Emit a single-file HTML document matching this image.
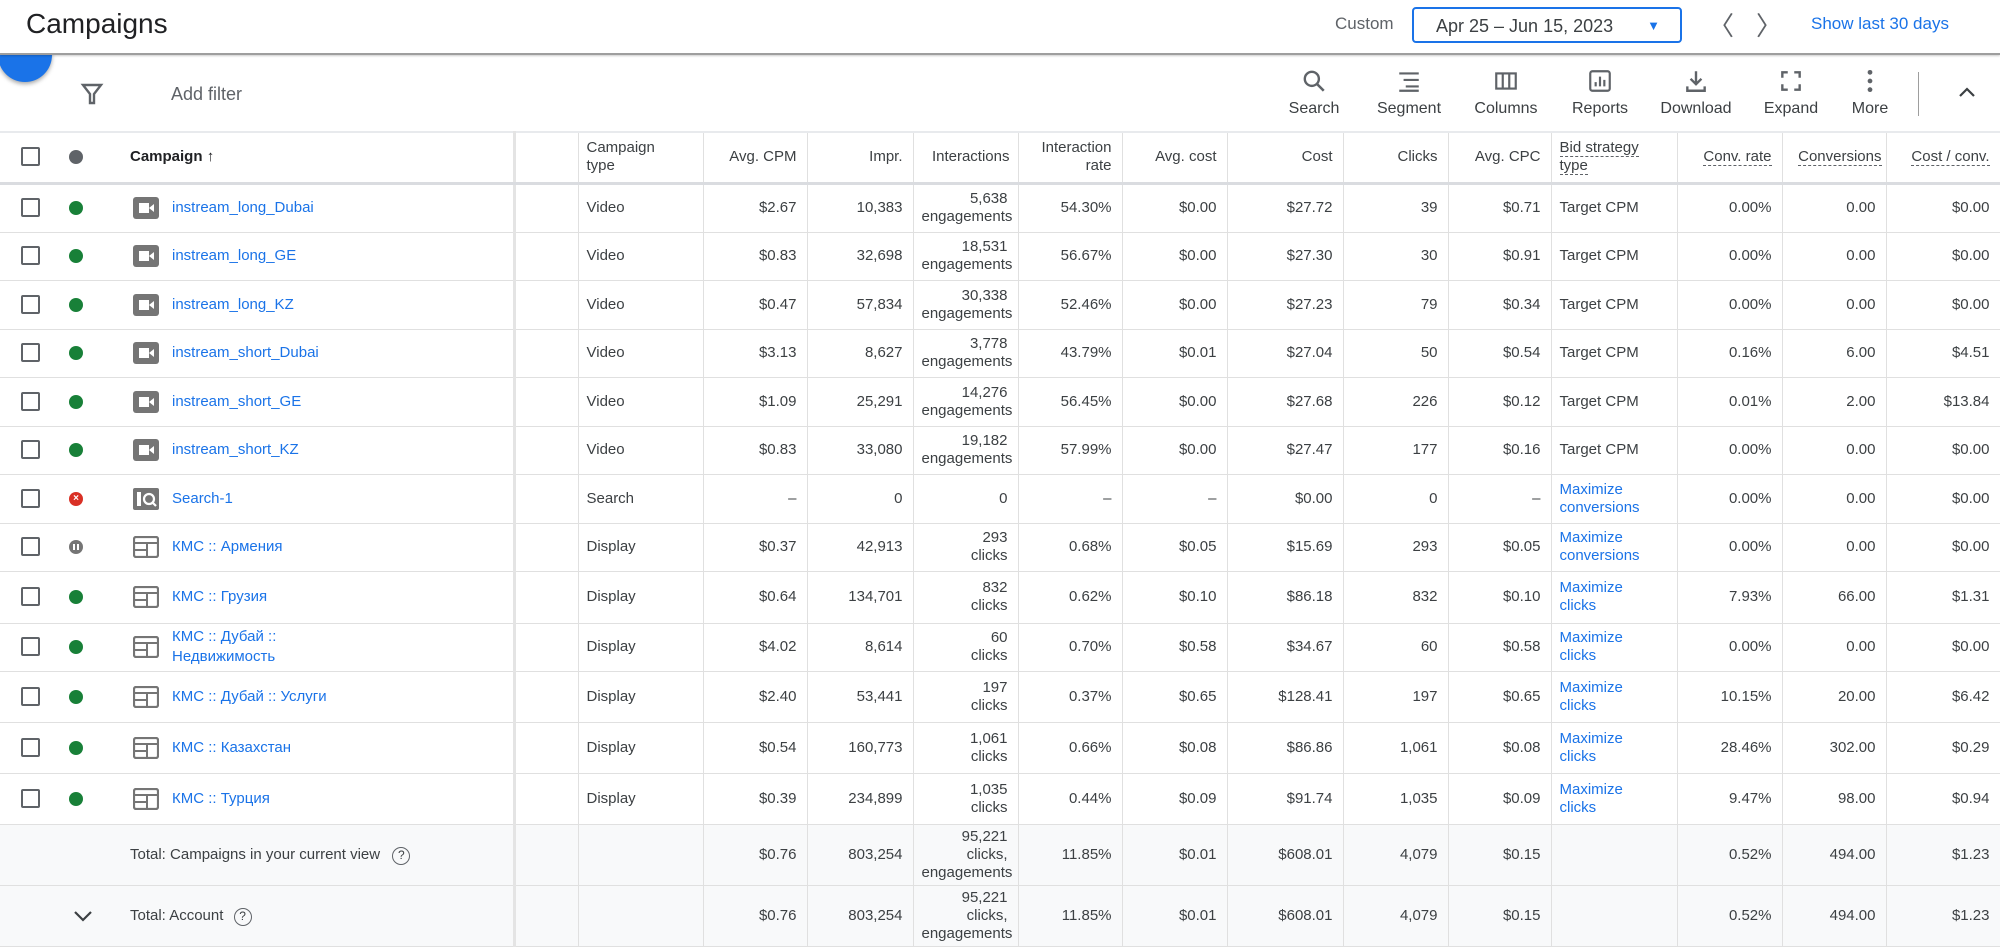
<!DOCTYPE html>
<html><head><meta charset="utf-8"><style>
*{box-sizing:border-box;margin:0;padding:0}
body{width:2000px;height:948px;overflow:hidden;background:#fff;font-family:"Liberation Sans","Noto Sans CJK SC",sans-serif;color:#3c4043;position:relative}
.top{position:absolute;left:0;top:0;width:2000px;height:55px;background:#fff;border-bottom:2px solid #9e9e9e;z-index:3;box-shadow:0 1px 2px rgba(0,0,0,.2)}
.title{position:absolute;left:26px;top:8px;font-size:28px;color:#202124}
.custom{position:absolute;left:1335px;top:14px;font-size:17px;color:#5f6368}
.date{position:absolute;left:1412px;top:7px;width:270px;height:36px;border:2px solid #1a73e8;border-radius:4px;font-size:18px;color:#3c4043;padding:7px 0 0 22px}
.date .ar{position:absolute;right:20px;top:9px;font-size:13px;color:#1a73e8}
.nav{position:absolute;top:6px;font-size:26px;color:#5f6368}
.show{position:absolute;left:1811px;top:14px;font-size:17px;color:#1a73e8}
.fab{position:absolute;left:-2px;top:28px;width:54px;height:54px;border-radius:50%;background:#1a73e8;box-shadow:0 2px 4px rgba(0,0,0,.35);z-index:2}
.tool{position:absolute;top:68px;width:90px;text-align:center;font-size:16px;color:#3c4043}
.tool svg{display:block;margin:0 auto 6px}
table{position:absolute;left:0;top:131px;border-collapse:collapse;table-layout:fixed;width:2000px;font-size:15px}
td{border-bottom:1px solid #e0e0e0;border-right:1px solid #e0e0e0;text-align:right;padding:0 10px 0 8px;vertical-align:middle;white-space:nowrap;overflow:hidden;line-height:18px}
tr.h td{font-size:15px;color:#3c4043;border-bottom:3px solid #dadce0;border-top:2px solid #e8eaed}
td.l{text-align:left}
td.c0{position:relative;padding:0;border-right:3px solid #e4e4e4}
.cb{position:absolute;left:21px;top:50%;margin-top:-10px;width:19px;height:19px;border:2px solid #5f6368;border-radius:2px}
.dot{position:absolute;left:69px;top:50%;margin-top:-7px;width:14px;height:14px;border-radius:50%;background:#188038}
.ic{position:absolute;left:133px;top:50%;margin-top:-11px}
.nm{position:absolute;left:172px;top:50%;transform:translateY(-50%);color:#1a73e8;text-align:left;white-space:normal;line-height:20px}
.lk{color:#1a73e8}
tr.t td{background:#f8f9fa}
.du{border-bottom:1px dashed #5f6368}
</style></head><body>
<div class="top">
<div class="title">Campaigns</div>
<div class="custom">Custom</div>
<div class="date">Apr 25 – Jun 15, 2023<span class="ar">▼</span></div>
<div class="nav" style="left:1708px">〈</div>
<div class="nav" style="left:1756px">〉</div>
<div class="show">Show last 30 days</div>
</div>
<div class="fab"></div>
<svg style="position:absolute;left:80px;top:82px" width="24" height="24" viewBox="0 0 24 24"><path d="M3 3h18l-7 9v9h-4v-9z" fill="none" stroke="#5f6368" stroke-width="2.4"/></svg>
<div style="position:absolute;left:171px;top:84px;font-size:18px;color:#5f6368">Add filter</div>
<div class="tool" style="left:1269px"><svg width="26" height="26" viewBox="0 0 24 24"><circle cx="10" cy="10" r="6.5" fill="none" stroke="#5f6368" stroke-width="2.2"/><path d="M15 15l6 6" stroke="#5f6368" stroke-width="2.4"/></svg>Search</div>
<div class="tool" style="left:1364px"><svg width="26" height="26" viewBox="0 0 24 24"><path d="M3 5h18M7 11h14M9 17h12M3 21h18" stroke="#5f6368" stroke-width="2"/></svg>Segment</div>
<div class="tool" style="left:1461px"><svg width="26" height="26" viewBox="0 0 24 24"><rect x="3" y="5" width="18" height="14" fill="none" stroke="#5f6368" stroke-width="2"/><path d="M9 5v14M15 5v14" stroke="#5f6368" stroke-width="2"/></svg>Columns</div>
<div class="tool" style="left:1555px"><svg width="26" height="26" viewBox="0 0 24 24"><rect x="3" y="3" width="18" height="18" rx="2" fill="none" stroke="#5f6368" stroke-width="2"/><path d="M8 17v-4M12 17V8M16 17v-6" stroke="#5f6368" stroke-width="2"/></svg>Reports</div>
<div class="tool" style="left:1651px"><svg width="26" height="26" viewBox="0 0 24 24"><path d="M12 3v11M7 10l5 5 5-5M4 17v4h16v-4" fill="none" stroke="#5f6368" stroke-width="2.2"/></svg>Download</div>
<div class="tool" style="left:1746px"><svg width="26" height="26" viewBox="0 0 24 24"><path d="M4 9V4h5M15 4h5v5M20 15v5h-5M9 20H4v-5" fill="none" stroke="#5f6368" stroke-width="2.2"/></svg>Expand</div>
<div class="tool" style="left:1825px"><svg width="26" height="26" viewBox="0 0 24 24"><circle cx="12" cy="4" r="2.2" fill="#5f6368"/><circle cx="12" cy="12" r="2.2" fill="#5f6368"/><circle cx="12" cy="20" r="2.2" fill="#5f6368"/></svg>More</div>
<div style="position:absolute;left:1918px;top:72px;width:1px;height:44px;background:#9e9e9e"></div>
<svg style="position:absolute;left:1956px;top:84px" width="22" height="16" viewBox="0 0 22 16"><path d="M4 12l7-7 7 7" fill="none" stroke="#3c4043" stroke-width="2.2"/></svg>

<table>
<colgroup><col style="width:514px"><col style="width:64px"><col style="width:125px"><col style="width:104px"><col style="width:106px"><col style="width:105px"><col style="width:104px"><col style="width:105px"><col style="width:116px"><col style="width:105px"><col style="width:103px"><col style="width:126px"><col style="width:105px"><col style="width:104px"><col style="width:114px"></colgroup>
<tr class="h" style="height:51px"><td class="c0"><div class="cb"></div><div class="dot" style="background:#5f6368"></div><div class="nm" style="left:130px;color:#202124;font-weight:bold;font-size:15px">Campaign <span style="font-weight:normal">↑</span></div></td><td></td><td class="l">Campaign<br>type</td><td>Avg. CPM</td><td>Impr.</td><td style="padding-right:8px">Interactions</td><td>Interaction<br>rate</td><td>Avg. cost</td><td>Cost</td><td>Clicks</td><td>Avg. CPC</td><td class="l"><span class="du">Bid strategy</span><br><span class="du">type</span></td><td><span class="du">Conv. rate</span></td><td style="padding-right:4px"><span class="du">Conversions</span></td><td><span class="du">Cost / conv.</span></td></tr>

<tr style="height:49px"><td class="c0"><div class="cb"></div><div class="dot"></div><svg class="ic" width="26" height="22"><rect width="26" height="22" rx="3" fill="#757575"/><rect x="6" y="6" width="10" height="10" fill="#fff"/><path d="M16 11l5-4v8z" fill="#fff"/></svg><div class="nm">instream_long_Dubai</div></td><td></td><td class="l">Video</td><td>$2.67</td><td>10,383</td><td>5,638<br>engagements</td><td>54.30%</td><td>$0.00</td><td>$27.72</td><td>39</td><td>$0.71</td><td class="l">Target CPM</td><td>0.00%</td><td>0.00</td><td>$0.00</td></tr>
<tr style="height:48px"><td class="c0"><div class="cb"></div><div class="dot"></div><svg class="ic" width="26" height="22"><rect width="26" height="22" rx="3" fill="#757575"/><rect x="6" y="6" width="10" height="10" fill="#fff"/><path d="M16 11l5-4v8z" fill="#fff"/></svg><div class="nm">instream_long_GE</div></td><td></td><td class="l">Video</td><td>$0.83</td><td>32,698</td><td>18,531<br>engagements</td><td>56.67%</td><td>$0.00</td><td>$27.30</td><td>30</td><td>$0.91</td><td class="l">Target CPM</td><td>0.00%</td><td>0.00</td><td>$0.00</td></tr>
<tr style="height:49px"><td class="c0"><div class="cb"></div><div class="dot"></div><svg class="ic" width="26" height="22"><rect width="26" height="22" rx="3" fill="#757575"/><rect x="6" y="6" width="10" height="10" fill="#fff"/><path d="M16 11l5-4v8z" fill="#fff"/></svg><div class="nm">instream_long_KZ</div></td><td></td><td class="l">Video</td><td>$0.47</td><td>57,834</td><td>30,338<br>engagements</td><td>52.46%</td><td>$0.00</td><td>$27.23</td><td>79</td><td>$0.34</td><td class="l">Target CPM</td><td>0.00%</td><td>0.00</td><td>$0.00</td></tr>
<tr style="height:48px"><td class="c0"><div class="cb"></div><div class="dot"></div><svg class="ic" width="26" height="22"><rect width="26" height="22" rx="3" fill="#757575"/><rect x="6" y="6" width="10" height="10" fill="#fff"/><path d="M16 11l5-4v8z" fill="#fff"/></svg><div class="nm">instream_short_Dubai</div></td><td></td><td class="l">Video</td><td>$3.13</td><td>8,627</td><td>3,778<br>engagements</td><td>43.79%</td><td>$0.01</td><td>$27.04</td><td>50</td><td>$0.54</td><td class="l">Target CPM</td><td>0.16%</td><td>6.00</td><td>$4.51</td></tr>
<tr style="height:49px"><td class="c0"><div class="cb"></div><div class="dot"></div><svg class="ic" width="26" height="22"><rect width="26" height="22" rx="3" fill="#757575"/><rect x="6" y="6" width="10" height="10" fill="#fff"/><path d="M16 11l5-4v8z" fill="#fff"/></svg><div class="nm">instream_short_GE</div></td><td></td><td class="l">Video</td><td>$1.09</td><td>25,291</td><td>14,276<br>engagements</td><td>56.45%</td><td>$0.00</td><td>$27.68</td><td>226</td><td>$0.12</td><td class="l">Target CPM</td><td>0.01%</td><td>2.00</td><td>$13.84</td></tr>
<tr style="height:48px"><td class="c0"><div class="cb"></div><div class="dot"></div><svg class="ic" width="26" height="22"><rect width="26" height="22" rx="3" fill="#757575"/><rect x="6" y="6" width="10" height="10" fill="#fff"/><path d="M16 11l5-4v8z" fill="#fff"/></svg><div class="nm">instream_short_KZ</div></td><td></td><td class="l">Video</td><td>$0.83</td><td>33,080</td><td>19,182<br>engagements</td><td>57.99%</td><td>$0.00</td><td>$27.47</td><td>177</td><td>$0.16</td><td class="l">Target CPM</td><td>0.00%</td><td>0.00</td><td>$0.00</td></tr>
<tr style="height:49px"><td class="c0"><div class="cb"></div><div class="dot" style="background:#d93025;color:#fff;font-size:10px;line-height:14px;text-align:center;font-weight:bold">×</div><svg class="ic" width="26" height="22"><rect width="26" height="22" rx="2" fill="#757575"/><rect x="4" y="4" width="4" height="14" fill="#fff"/><circle cx="16" cy="11" r="5" fill="none" stroke="#fff" stroke-width="2.2"/><path d="M19 14l4 4" stroke="#fff" stroke-width="2.2"/></svg><div class="nm">Search-1</div></td><td></td><td class="l">Search</td><td>–</td><td>0</td><td>0</td><td>–</td><td>–</td><td>$0.00</td><td>0</td><td>–</td><td class="l lk">Maximize<br>conversions</td><td>0.00%</td><td>0.00</td><td>$0.00</td></tr>
<tr style="height:48px"><td class="c0"><div class="cb"></div><div class="dot" style="background:#757575"><div style="position:absolute;left:4px;top:4px;width:2px;height:6px;background:#fff"></div><div style="position:absolute;left:8px;top:4px;width:2px;height:6px;background:#fff"></div></div><svg class="ic" width="26" height="22"><rect x="1" y="1" width="24" height="20" rx="2" fill="none" stroke="#757575" stroke-width="2.2"/><path d="M1 7h24M14 7v14M1 14h13" stroke="#757575" stroke-width="2"/></svg><div class="nm">КМС :: Армения</div></td><td></td><td class="l">Display</td><td>$0.37</td><td>42,913</td><td>293<br>clicks</td><td>0.68%</td><td>$0.05</td><td>$15.69</td><td>293</td><td>$0.05</td><td class="l lk">Maximize<br>conversions</td><td>0.00%</td><td>0.00</td><td>$0.00</td></tr>
<tr style="height:52px"><td class="c0"><div class="cb"></div><div class="dot"></div><svg class="ic" width="26" height="22"><rect x="1" y="1" width="24" height="20" rx="2" fill="none" stroke="#757575" stroke-width="2.2"/><path d="M1 7h24M14 7v14M1 14h13" stroke="#757575" stroke-width="2"/></svg><div class="nm">КМС :: Грузия</div></td><td></td><td class="l">Display</td><td>$0.64</td><td>134,701</td><td>832<br>clicks</td><td>0.62%</td><td>$0.10</td><td>$86.18</td><td>832</td><td>$0.10</td><td class="l lk">Maximize<br>clicks</td><td>7.93%</td><td>66.00</td><td>$1.31</td></tr>
<tr style="height:48px"><td class="c0"><div class="cb"></div><div class="dot"></div><svg class="ic" width="26" height="22"><rect x="1" y="1" width="24" height="20" rx="2" fill="none" stroke="#757575" stroke-width="2.2"/><path d="M1 7h24M14 7v14M1 14h13" stroke="#757575" stroke-width="2"/></svg><div class="nm">КМС :: Дубай ::<br>Недвижимость</div></td><td></td><td class="l">Display</td><td>$4.02</td><td>8,614</td><td>60<br>clicks</td><td>0.70%</td><td>$0.58</td><td>$34.67</td><td>60</td><td>$0.58</td><td class="l lk">Maximize<br>clicks</td><td>0.00%</td><td>0.00</td><td>$0.00</td></tr>
<tr style="height:51px"><td class="c0"><div class="cb"></div><div class="dot"></div><svg class="ic" width="26" height="22"><rect x="1" y="1" width="24" height="20" rx="2" fill="none" stroke="#757575" stroke-width="2.2"/><path d="M1 7h24M14 7v14M1 14h13" stroke="#757575" stroke-width="2"/></svg><div class="nm">КМС :: Дубай :: Услуги</div></td><td></td><td class="l">Display</td><td>$2.40</td><td>53,441</td><td>197<br>clicks</td><td>0.37%</td><td>$0.65</td><td>$128.41</td><td>197</td><td>$0.65</td><td class="l lk">Maximize<br>clicks</td><td>10.15%</td><td>20.00</td><td>$6.42</td></tr>
<tr style="height:51px"><td class="c0"><div class="cb"></div><div class="dot"></div><svg class="ic" width="26" height="22"><rect x="1" y="1" width="24" height="20" rx="2" fill="none" stroke="#757575" stroke-width="2.2"/><path d="M1 7h24M14 7v14M1 14h13" stroke="#757575" stroke-width="2"/></svg><div class="nm">КМС :: Казахстан</div></td><td></td><td class="l">Display</td><td>$0.54</td><td>160,773</td><td>1,061<br>clicks</td><td>0.66%</td><td>$0.08</td><td>$86.86</td><td>1,061</td><td>$0.08</td><td class="l lk">Maximize<br>clicks</td><td>28.46%</td><td>302.00</td><td>$0.29</td></tr>
<tr style="height:51px"><td class="c0"><div class="cb"></div><div class="dot"></div><svg class="ic" width="26" height="22"><rect x="1" y="1" width="24" height="20" rx="2" fill="none" stroke="#757575" stroke-width="2.2"/><path d="M1 7h24M14 7v14M1 14h13" stroke="#757575" stroke-width="2"/></svg><div class="nm">КМС :: Турция</div></td><td></td><td class="l">Display</td><td>$0.39</td><td>234,899</td><td>1,035<br>clicks</td><td>0.44%</td><td>$0.09</td><td>$91.74</td><td>1,035</td><td>$0.09</td><td class="l lk">Maximize<br>clicks</td><td>9.47%</td><td>98.00</td><td>$0.94</td></tr>
<tr class="t" style="height:61px"><td class="c0"><div class="nm" style="left:130px;color:#3c4043">Total: Campaigns in your current view <span style="display:inline-block;width:18px;height:18px;border:1.5px solid #5f6368;border-radius:50%;font-size:12px;line-height:15px;text-align:center;margin-left:8px">?</span></div></td><td></td><td></td><td>$0.76</td><td>803,254</td><td>95,221<br>clicks,<br>engagements</td><td>11.85%</td><td>$0.01</td><td>$608.01</td><td>4,079</td><td>$0.15</td><td></td><td>0.52%</td><td>494.00</td><td>$1.23</td></tr>
<tr class="t" style="height:61px"><td class="c0"><svg style="position:absolute;left:72px;top:22px" width="22" height="16"><path d="M3 4l8 8 8-8" fill="none" stroke="#3c4043" stroke-width="2.2"/></svg><div class="nm" style="left:130px;color:#3c4043">Total: Account <span style="display:inline-block;width:18px;height:18px;border:1.5px solid #5f6368;border-radius:50%;font-size:12px;line-height:15px;text-align:center;margin-left:6px">?</span></div></td><td></td><td></td><td>$0.76</td><td>803,254</td><td>95,221<br>clicks,<br>engagements</td><td>11.85%</td><td>$0.01</td><td>$608.01</td><td>4,079</td><td>$0.15</td><td></td><td>0.52%</td><td>494.00</td><td>$1.23</td></tr>
</table>
</body></html>
